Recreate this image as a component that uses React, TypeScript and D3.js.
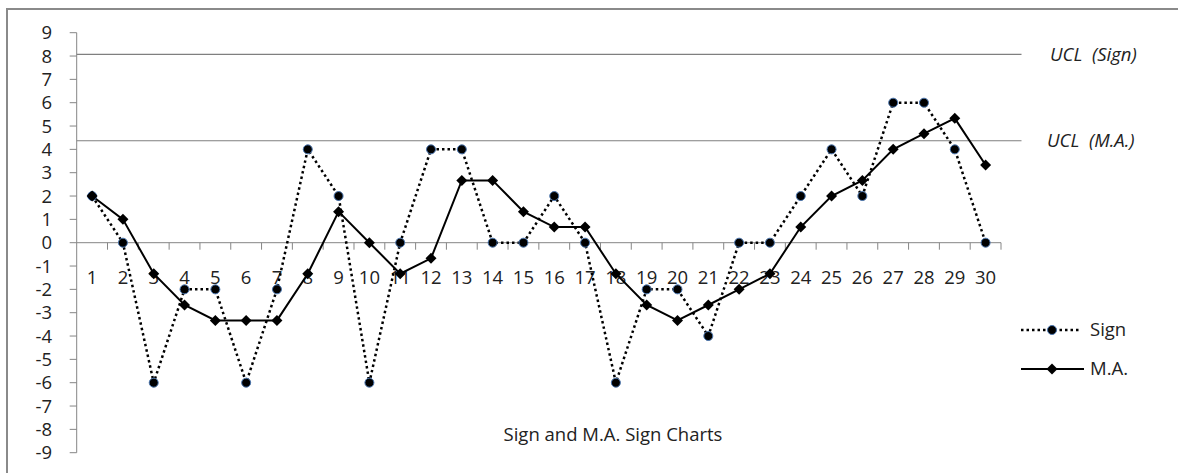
import React from "react";
import * as d3 from "d3";

const categories: number[] = Array.from({ length: 30 }, (_, i) => i + 1);
const signValues: number[] = [2, 0, -6, -2, -2, -6, -2, 4, 2, -6, 0, 4, 4, 0, 0, 2, 0, -6, -2, -2, -4, 0, 0, 2, 4, 2, 6, 6, 4, 0];
const maValues: number[] = [2, 1, -1.33, -2.67, -3.33, -3.33, -3.33, -1.33, 1.33, 0, -1.33, -0.67, 2.67, 2.67, 1.33, 0.67, 0.67, -1.33, -2.67, -3.33, -2.67, -2, -1.33, 0.67, 2, 2.67, 4, 4.67, 5.33, 3.33];
const yTicks: number[] = [9, 8, 7, 6, 5, 4, 3, 2, 1, 0, -1, -2, -3, -4, -5, -6, -7, -8, -9];
const uclSign = 8.07;
const uclMA = 4.37;
const uclLabels = ["UCL  (Sign)", "UCL  (M.A.)"];
const legendLabels = ["Sign", "M.A."];
const title = "Sign and M.A. Sign Charts";

const W = 1178;
const H = 473;
const axisX = 76.7;
const axisRight = 1001;
const font = "'Open Sans', sans-serif";
const fs = 18.5;

export default function App() {
  const x = d3.scaleBand<number>().domain(categories).range([axisX, axisRight]).paddingInner(0).paddingOuter(0);
  const y = d3.scaleLinear().domain([-9, 9]).range([452.7, 32.7]);
  const cx = (c: number) => (x(c) as number) + x.bandwidth() / 2;

  const line = d3.line<[number, number]>().x((d) => cx(d[0])).y((d) => y(d[1]));
  const signPath = line(categories.map((c, i) => [c, signValues[i]]));
  const maPath = line(categories.map((c, i) => [c, maValues[i]]));
  const diamond = (px: number, py: number, r: number) => `M${px},${py - r}L${px + r},${py}L${px},${py + r}L${px - r},${py}Z`;

  const y0 = y(0);
  const gray = "#868686";

  return (
    <svg width={W} height={H} style={{ position: "absolute", left: 0, top: 0, background: "#fff" }} fontFamily={font}>
      <rect x={0} y={0} width={W} height={H} fill="#fff" />
      {/* outer frame */}
      <path d={`M7,${H}L7,9L${W},9`} fill="none" stroke="#8a8a8a" strokeWidth={2} />

      {/* UCL lines */}
      <line x1={axisX} x2={1021.5} y1={y(uclSign)} y2={y(uclSign)} stroke="#7f7f7f" strokeWidth={1.2} />
      <line x1={axisX} x2={1021.5} y1={y(uclMA)} y2={y(uclMA)} stroke="#7f7f7f" strokeWidth={1.2} />
      <text x={1050} y={y(uclSign)} dy="0.35em" fontSize={fs} fontStyle="italic" fill="#222" style={{ whiteSpace: "pre" }}>{uclLabels[0]}</text>
      <text x={1047} y={y(uclMA)} dy="0.35em" fontSize={fs} fontStyle="italic" fill="#222" style={{ whiteSpace: "pre" }}>{uclLabels[1]}</text>

      {/* y axis */}
      <line x1={axisX} x2={axisX} y1={y(9)} y2={y(-9)} stroke={gray} strokeWidth={1} />
      {yTicks.map((t) => (
        <g key={t}>
          <line x1={axisX - 7} x2={axisX} y1={y(t)} y2={y(t)} stroke={gray} strokeWidth={1} />
          <text x={52} y={y(t)} dy="0.35em" textAnchor="end" fontSize={fs} fill="#222">{t}</text>
        </g>
      ))}

      {/* x axis */}
      <line x1={axisX} x2={axisRight} y1={y0} y2={y0} stroke={gray} strokeWidth={1} />
      {categories.map((c) => (
        <line key={"t" + c} x1={(x(c) as number) + x.bandwidth()} x2={(x(c) as number) + x.bandwidth()} y1={y0} y2={y0 + 7} stroke={gray} strokeWidth={1} />
      ))}
      {categories.map((c) => (
        <text key={"l" + c} x={cx(c)} y={278} dy="0.35em" textAnchor="middle" fontSize={fs} fill="#222">{c}</text>
      ))}

      {/* Sign series */}
      <path d={signPath || ""} fill="none" stroke="#000" strokeWidth={2.5} strokeDasharray="2.5,3" />
      {/* M.A. series */}
      <path d={maPath || ""} fill="none" stroke="#000" strokeWidth={2} />
      {categories.map((c, i) => (
        <circle key={"s" + c} cx={cx(c)} cy={y(signValues[i])} r={4.5} fill="#000" stroke="#4a76b0" strokeWidth={1} />
      ))}
      {categories.map((c, i) => (
        <path key={"m" + c} d={diamond(cx(c), y(maValues[i]), 5.5)} fill="#000" />
      ))}

      {/* legend */}
      <line x1={1021} x2={1080} y1={330} y2={330} stroke="#000" strokeWidth={2.5} strokeDasharray="2.5,3" />
      <circle cx={1052} cy={330} r={4.5} fill="#000" stroke="#4a76b0" strokeWidth={1} />
      <text x={1090} y={330} dy="0.35em" fontSize={fs} fill="#222">{legendLabels[0]}</text>
      <line x1={1021} x2={1084} y1={369} y2={369} stroke="#000" strokeWidth={2} />
      <path d={diamond(1052, 369, 5.5)} fill="#000" />
      <text x={1090} y={369} dy="0.35em" fontSize={fs} fill="#222">{legendLabels[1]}</text>

      {/* title */}
      <text x={613} y={435} dy="0.35em" textAnchor="middle" fontSize={fs} fill="#222">{title}</text>
    </svg>
  );
}
